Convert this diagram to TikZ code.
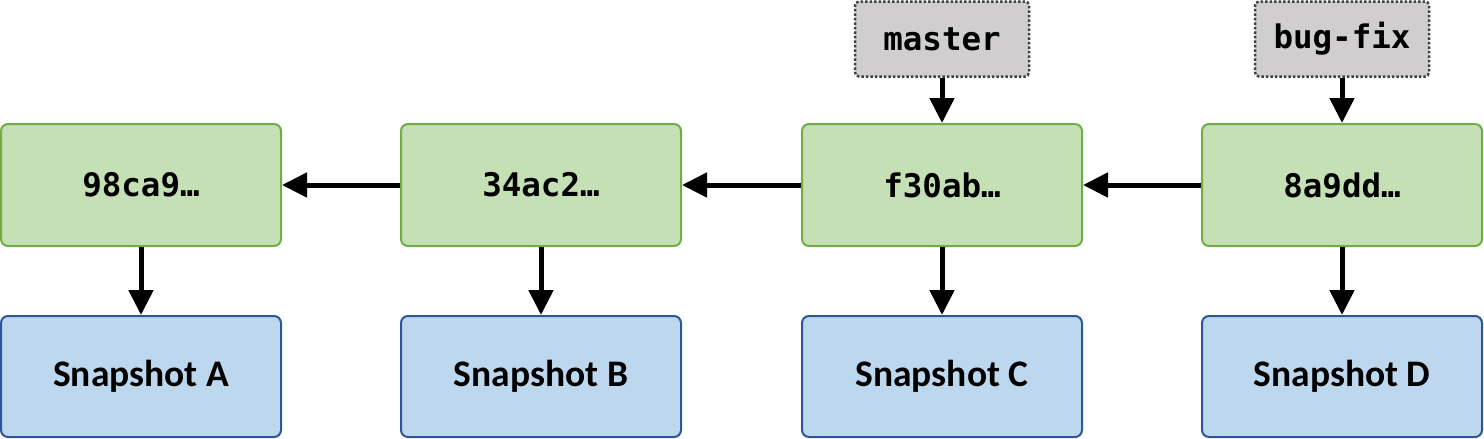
\documentclass[tikz,border=0pt]{standalone}
\usepackage{fontspec}
\setmainfont{Carlito}
\newfontfamily\codefont{DejaVu Sans Mono}
\usetikzlibrary{arrows.meta}
\definecolor{cgreenfill}{HTML}{C5E0B4}
\definecolor{cgreenline}{HTML}{70AD47}
\definecolor{cbluefill}{HTML}{BDD7EE}
\definecolor{cblueline}{HTML}{2F5597}
\definecolor{cgrayfill}{HTML}{D0CECE}
\definecolor{cgrayline}{HTML}{404040}
\tikzset{
  commitbox/.style={draw=cgreenline, fill=cgreenfill, line width=2pt, rounded corners=7pt,
    minimum width=280pt, minimum height=122pt, inner sep=0pt,
    font=\codefont\bfseries\fontsize{32.5}{38}\selectfont},
  snapbox/.style={draw=cblueline, fill=cbluefill, line width=2pt, rounded corners=7pt,
    minimum width=280pt, minimum height=121pt, inner sep=0pt,
    font=\bfseries\fontsize{37.5}{44}\selectfont},
  tagbox/.style={draw=cgrayline, fill=cgrayfill, line width=2.5pt, dotted, rounded corners=4pt,
    minimum width=174pt, minimum height=75pt, inner sep=0pt,
    font=\codefont\bfseries\fontsize{32.5}{38}\selectfont},
  conn/.style={line width=5pt, -{Triangle[width=24pt,length=25pt]}},
}
\begin{document}
\begin{tikzpicture}[x=1pt,y=-1pt]
\useasboundingbox (0,0) rectangle (1484,439);
\node[commitbox] (c1) at (141,185) {98ca9…};
\node[commitbox] (c2) at (541,185) {34ac2…};
\node[commitbox] (c3) at (942,185) {f30ab…};
\node[commitbox] (c4) at (1342,185) {8a9dd…};
\node[snapbox] (s1) at (141,376.5) {Snapshot A};
\node[snapbox] (s2) at (541,376.5) {Snapshot B};
\node[snapbox] (s3) at (942,376.5) {Snapshot C};
\node[snapbox] (s4) at (1342,376.5) {Snapshot D};
\node[tagbox] (master) at (942,39) {master};
\node[tagbox] (bugfix) at (1342,39) {bug-fix};
\draw[conn] (c2.west) -- (c1.east);
\draw[conn] (c3.west) -- (c2.east);
\draw[conn] (c4.west) -- (c3.east);
\draw[conn] (c1.south) -- (s1.north);
\draw[conn] (c2.south) -- (s2.north);
\draw[conn] (c3.south) -- (s3.north);
\draw[conn] (c4.south) -- (s4.north);
\draw[conn] (master.south) -- (c3.north);
\draw[conn] (bugfix.south) -- (c4.north);
\end{tikzpicture}
\end{document}
